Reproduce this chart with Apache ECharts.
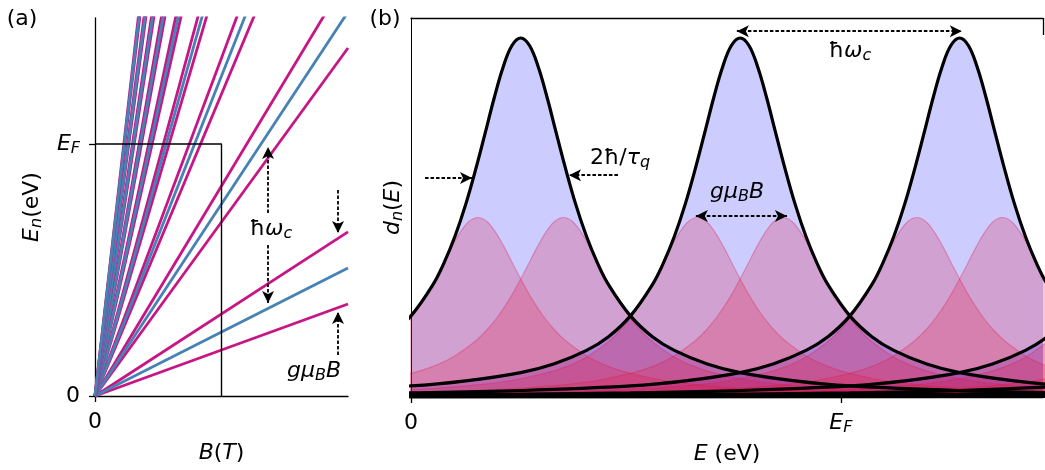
<!DOCTYPE html>
<html><head><meta charset="utf-8">
<script src="https://cdn.jsdelivr.net/npm/echarts@6/dist/echarts.min.js"></script>
<style>html,body{margin:0;padding:0;background:#fff}#c{width:1045px;height:470px}</style>
</head><body><div id="c"></div>
<script>
// ---------- Panel (a): Landau fan, energies read at the right edge (B = 2) ----------
const fanFieldRange = [0, 2];
const orbitalAtEdge  = [0.508, 1.524, 2.540, 3.556, 4.572, 5.588, 6.604, 7.620, 8.636];
const spinUpAtEdge   = [0.651, 1.667, 2.683, 3.699, 4.715, 5.731, 6.747, 7.763, 8.779];
const spinDownAtEdge = [0.365, 1.381, 2.397, 3.413, 4.429, 5.445, 6.461, 7.477, 8.493];
const fermiBox = [[0, 1], [1, 1], [1, 0]];
const fanXTicks = [0];
const fanYTicks = [0, 1];

// ---------- Panel (b): broadened Landau levels ----------
const levelCentres = [0.5, 1.5, 2.5, 3.5, 4.5, 5.5, 6.5, 7.5, 8.5, 9.5];
const spinOffsets = [-0.195, 0.195];
const totalPeak = 1.0;
const spinPeak = 0.5;
// peak profile: height (fraction of peak) vs distance from centre
const profileOffset = [0, 0.04, 0.08, 0.12, 0.16, 0.2, 0.25, 0.3, 0.35, 0.4, 0.5, 0.6, 0.7, 0.85, 1.0, 1.25, 1.5, 2, 2.5, 3, 4, 5, 6, 8, 10];
const profileHeight = [1, 0.979, 0.919, 0.835, 0.740, 0.646, 0.538, 0.447, 0.373, 0.313, 0.226, 0.168, 0.130, 0.092, 0.068, 0.045, 0.031, 0.018, 0.0115, 0.008, 0.0045, 0.0029, 0.002, 0.0011, 0.0007];
const fermiEnergy = 1.959;
const dosXTicks = [0, fermiEnergy];

const FONT = 'DejaVu Sans';
const PINK = '#C71585', BLUE = '#4682B4';

function richStyles(colorKey) {
  const c = {}; c[colorKey] = '#000';
  return {
    r: Object.assign({fontFamily: FONT, fontSize: 22, lineHeight: 26}, c),
    m: Object.assign({fontFamily: FONT, fontSize: 22, fontStyle: 'italic', lineHeight: 26}, c),
    s: Object.assign({fontFamily: FONT, fontSize: 16, fontStyle: 'italic', lineHeight: 12, verticalAlign: 'bottom'}, c)
  };
}
const richA = richStyles('color');
const richG = richStyles('fill');

function profilePoints(centre, peak) {
  const pts = [];
  for (let i = profileOffset.length - 1; i > 0; i--) pts.push([centre - profileOffset[i], peak * profileHeight[i]]);
  for (let i = 0; i < profileOffset.length; i++) pts.push([centre + profileOffset[i], peak * profileHeight[i]]);
  return pts;
}

const series = [];
// fan lines
for (let i = 0; i < orbitalAtEdge.length; i++) {
  [[spinDownAtEdge[i], PINK], [spinUpAtEdge[i], PINK], [orbitalAtEdge[i], BLUE]].forEach(([v, col]) => {
    series.push({type: 'line', xAxisIndex: 0, yAxisIndex: 0, silent: true, showSymbol: false, symbol: 'none',
      data: [[fanFieldRange[0], 0], [fanFieldRange[1], v]], lineStyle: {color: col, width: 2.8}, z: 2});
  });
}
const dashStyle = {color: '#000', type: [3.5, 2], width: 1.8, opacity: 1};
function arrow(p1, p2, both) {
  return [{coord: p1, symbol: both ? 'arrow' : 'none', symbolSize: [9, 12]}, {coord: p2, symbol: 'arrow', symbolSize: [9, 12]}];
}
series.push({type: 'line', xAxisIndex: 0, yAxisIndex: 0, silent: true, showSymbol: false, symbol: 'none',
  data: fermiBox, lineStyle: {color: '#000', width: 1.4}, z: 3,
  markLine: {silent: true, animation: false, label: {show: false}, lineStyle: dashStyle, symbol: ['none', 'arrow'],
    emphasis: {disabled: true},
    data: [arrow([1.368, 0.726], [1.368, 0.988]), arrow([1.368, 0.599], [1.368, 0.369]),
           arrow([1.921, 0.817], [1.921, 0.647]), arrow([1.921, 0.163], [1.921, 0.333])]}
});

// DOS: blue fills under each level
levelCentres.forEach(c => {
  series.push({type: 'line', xAxisIndex: 1, yAxisIndex: 1, silent: true, showSymbol: false, symbol: 'none', smooth: 0.4,
    data: profilePoints(c, totalPeak), lineStyle: {width: 0, opacity: 0},
    areaStyle: {color: 'rgba(0,0,255,0.2)', opacity: 1}, z: 1});
});
// spin-split components
levelCentres.forEach(c => {
  spinOffsets.forEach(o => {
    series.push({type: 'line', xAxisIndex: 1, yAxisIndex: 1, silent: true, showSymbol: false, symbol: 'none', smooth: 0.4,
      data: profilePoints(c + o, spinPeak), lineStyle: {width: 1.2, color: 'rgba(225,25,65,0.32)'},
      areaStyle: {color: 'rgba(225,25,65,0.24)', opacity: 1}, z: 2});
  });
});
// total envelopes
levelCentres.forEach((c, k) => {
  const s = {type: 'line', xAxisIndex: 1, yAxisIndex: 1, silent: true, showSymbol: false, symbol: 'none', smooth: 0.4,
    data: profilePoints(c, totalPeak), lineStyle: {width: 3.2, color: '#000'}, z: 3};
  if (k === 0) s.markLine = {silent: true, animation: false, label: {show: false}, lineStyle: dashStyle, emphasis: {disabled: true},
    data: [arrow([1.485, 1.019], [2.510, 1.019], true), arrow([0.064, 0.610], [0.278, 0.610]),
           arrow([0.943, 0.618], [0.720, 0.618]), arrow([1.298, 0.504], [1.713, 0.504], true)]};
  series.push(s);
});

const axisLineStyle = {color: '#000', width: 1.3};
const option = {
  animation: false,
  backgroundColor: '#fff',
  grid: [
    {left: 95, top: 18, width: 253, height: 378, outerBoundsMode: 'none', containLabel: false},
    {left: 411, top: 18, width: 632, height: 379, outerBoundsMode: 'none', containLabel: false}
  ],
  xAxis: [
    {type: 'value', gridIndex: 0, min: 0, max: 2, splitLine: {show: false},
      axisLine: {show: true, onZero: false, lineStyle: axisLineStyle},
      axisTick: {show: true, length: 6, lineStyle: axisLineStyle, customValues: fanXTicks},
      axisLabel: {margin: 13, customValues: fanXTicks, formatter: () => '{r|0}', rich: richA},
      name: '{m|B}{r|(}{m|T}{r|)}', nameLocation: 'middle', nameGap: 44, nameTextStyle: {rich: richA}},
    {type: 'value', gridIndex: 1, min: 0, max: 2.88, splitLine: {show: false},
      axisLine: {show: true, onZero: false, lineStyle: axisLineStyle},
      axisTick: {show: true, length: 6, lineStyle: axisLineStyle, customValues: dosXTicks},
      axisLabel: {margin: 13, customValues: dosXTicks, formatter: v => v === 0 ? '{r|0}' : '{m|E}{s|F}', rich: richA},
      name: '{m|E}{r| (eV)}', nameLocation: 'middle', nameGap: 44, nameTextStyle: {rich: richA}},
    {type: 'value', gridIndex: 1, position: 'top', min: 0, max: 2.88, splitLine: {show: false},
      axisLine: {show: true, onZero: false, lineStyle: axisLineStyle}, axisTick: {show: false}, axisLabel: {show: false}}
  ],
  yAxis: [
    {type: 'value', gridIndex: 0, min: 0, max: 1.5, splitLine: {show: false},
      axisLine: {show: true, onZero: false, lineStyle: axisLineStyle},
      axisTick: {show: true, length: 6, lineStyle: axisLineStyle, customValues: fanYTicks},
      axisLabel: {margin: 15, customValues: fanYTicks, formatter: v => v === 0 ? '{r|0}' : '{m|E}{s|F}', rich: richA},
      name: '{m|E}{s|n}{r|(eV)}', nameLocation: 'middle', nameRotate: 90, nameGap: 50, nameTextStyle: {rich: richA}},
    {type: 'value', gridIndex: 1, min: 0, max: 1.0557, splitLine: {show: false},
      axisLine: {show: true, onZero: false, lineStyle: {color: '#000', width: 1}},
      axisTick: {show: false}, axisLabel: {show: false},
      name: '{m|d}{s|n}{r|(}{m|E}{r|)}', nameLocation: 'middle', nameRotate: 90, nameGap: 5, nameTextStyle: {rich: richA}}
  ],
  graphic: [
    {type: 'text', x: 22, y: 19, silent: true, style: {text: '(a)', font: '22px DejaVu Sans', fill: '#000', align: 'center', verticalAlign: 'middle'}},
    {type: 'text', x: 385, y: 19, silent: true, style: {text: '(b)', font: '22px DejaVu Sans', fill: '#000', align: 'center', verticalAlign: 'middle'}},
    {type: 'text', x: 271, y: 229, silent: true, z: 10, style: {text: '{r|ħ}{m|ω}{s|c}', rich: richG, align: 'center', verticalAlign: 'middle'}},
    {type: 'text', x: 314, y: 371, silent: true, z: 10, style: {text: '{m|gμ}{s|B}{m|B}', rich: richG, align: 'center', verticalAlign: 'middle'}},
    {type: 'text', x: 850, y: 51, silent: true, z: 10, style: {text: '{r|ħ}{m|ω}{s|c}', rich: richG, align: 'center', verticalAlign: 'middle'}},
    {type: 'text', x: 620, y: 158, silent: true, z: 10, style: {text: '{r|2ħ/}{m|τ}{s|q}', rich: richG, align: 'center', verticalAlign: 'middle'}},
    {type: 'text', x: 737, y: 192, silent: true, z: 10, style: {text: '{m|gμ}{s|B}{m|B}', rich: richG, align: 'center', verticalAlign: 'middle'}},
    {type: 'line', silent: true, z: 10, shape: {x1: 1043.5, y1: 18, x2: 1043.5, y2: 35}, style: {stroke: '#000', lineWidth: 1.3}}
  ],
  series: series
};
const chart = echarts.init(document.getElementById('c'), null, {renderer: 'canvas'});
chart.setOption(option);
</script></body></html>
